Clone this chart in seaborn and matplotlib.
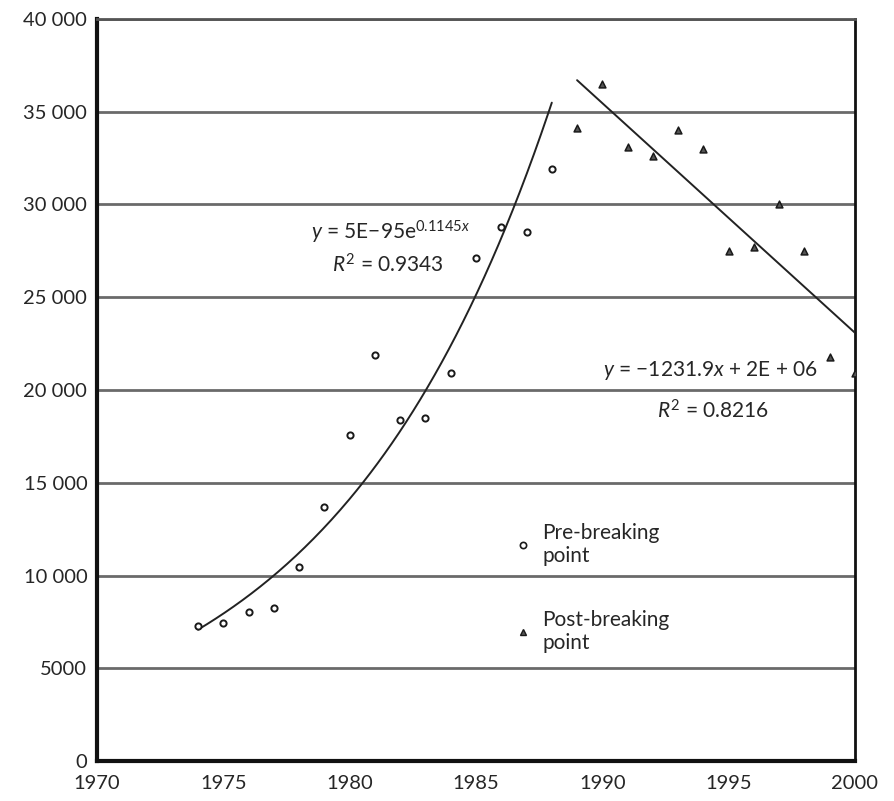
import numpy as np
import pandas as pd
import matplotlib
matplotlib.use("Agg")
import matplotlib.pyplot as plt
import seaborn as sns

# Annual values before and after the breaking point
pre_years = [1974, 1975, 1976, 1977, 1978, 1979, 1980, 1981, 1982, 1983, 1984, 1985, 1986, 1987, 1988]
pre_values = [7300, 7450, 8050, 8250, 10450, 13700, 17600, 21900, 18400, 18500, 20900, 27100, 28800, 28500, 31900]
post_years = [1989, 1990, 1991, 1992, 1993, 1994, 1995, 1996, 1997, 1998, 1999, 2000]
post_values = [34100, 36500, 33100, 32600, 34000, 33000, 27500, 27700, 30000, 27500, 21800, 20900]

phase_labels = ["Pre-breaking\npoint", "Post-breaking\npoint"]
x_ticks = [1970, 1975, 1980, 1985, 1990, 1995, 2000]
y_ticks = [0, 5000, 10000, 15000, 20000, 25000, 30000, 35000, 40000]
y_tick_labels = ["0", "5000", "10 000", "15 000", "20 000", "25 000", "30 000", "35 000", "40 000"]

exp_label = r"$\mathit{y}$ = 5E−95e$^{0.1145x}$"
exp_r2 = r"$\mathit{R}^2$ = 0.9343"
lin_label = r"$\mathit{y}$ = −1231.9$\mathit{x}$ + 2E + 06"
lin_r2 = r"$\mathit{R}^2$ = 0.8216"

sns.set_theme(style="white")
plt.rcParams["font.family"] = ["Lato", "DejaVu Sans"]
plt.rcParams["mathtext.fontset"] = "custom"
plt.rcParams["mathtext.rm"] = "Lato"
plt.rcParams["mathtext.it"] = "Lato:italic"

pre_df = pd.DataFrame({"year": pre_years, "value": pre_values})
post_df = pd.DataFrame({"year": post_years, "value": post_values})

fig = plt.figure(figsize=(8.95, 8.01), dpi=100)
ax = fig.add_axes([0.1084, 0.0499, 0.8469, 0.9264])

# Horizontal grid lines
for yv in y_ticks[1:]:
    ax.axhline(yv, color="#6a6a6a", lw=2.0, zorder=1)

# Trend lines fitted to each phase
px = np.array(pre_years, dtype=float)
b, ln_a = np.polyfit(px, np.log(pre_values), 1)
xs_exp = np.linspace(px.min(), px.max(), 200)
sns.lineplot(x=xs_exp, y=np.exp(ln_a + b * xs_exp), ax=ax, color="#222222", lw=1.4, zorder=3)

qx = np.array(post_years, dtype=float)
m, c = np.polyfit(qx, post_values, 1)
xs_lin = np.array([qx.min(), qx.max()])
sns.lineplot(x=xs_lin, y=m * xs_lin + c, ax=ax, color="#222222", lw=1.4, zorder=3)

sns.scatterplot(data=pre_df, x="year", y="value", marker="o", s=20,
                facecolor="white", edgecolor="#1a1a1a", linewidth=1.4, ax=ax, zorder=4)
sns.scatterplot(data=post_df, x="year", y="value", marker="^", s=24,
                facecolor="#555555", edgecolor="#1a1a1a", linewidth=1.1, ax=ax, zorder=4)

# Equation labels
ax.text(1981.6, 28500, exp_label, fontsize=15, ha="center", va="center", zorder=5)
ax.text(1981.5, 26750, exp_r2, fontsize=15, ha="center", va="center", zorder=5)
ax.text(1994.3, 21050, lin_label, fontsize=15, ha="center", va="center", zorder=5)
ax.text(1994.4, 18900, lin_r2, fontsize=15, ha="center", va="center", zorder=5)

# Legend
handles = [
    plt.Line2D([], [], marker="o", ls="none", markersize=4.5, markerfacecolor="white",
               markeredgecolor="#1a1a1a", markeredgewidth=1.2),
    plt.Line2D([], [], marker="^", ls="none", markersize=4.5, markerfacecolor="#555555",
               markeredgecolor="#1a1a1a", markeredgewidth=1.0),
]
ax.legend(handles, phase_labels, loc="upper left", bbox_to_anchor=(0.535, 0.335),
          frameon=False, fontsize=15, labelspacing=2.1, handletextpad=0.4,
          handlelength=1.0, borderpad=0)

ax.set_xlim(1970, 2000)
ax.set_ylim(0, 40000)
ax.set_xticks(x_ticks)
ax.set_yticks(y_ticks)
ax.set_yticklabels(y_tick_labels)
ax.tick_params(axis="both", labelsize=14.5, length=3, width=1, color="#333333",
               direction="out")
ax.tick_params(axis="x", pad=7)
ax.tick_params(axis="y", pad=4)
ax.set_xlabel("")
ax.set_ylabel("")

for side in ["left", "bottom"]:
    ax.spines[side].set_color("#111111")
    ax.spines[side].set_linewidth(3.0)
ax.spines["right"].set_color("#111111")
ax.spines["right"].set_linewidth(2.0)
ax.spines["top"].set_color("#555555")
ax.spines["top"].set_linewidth(2.0)

fig.savefig("out.png", dpi=100, facecolor="white")
